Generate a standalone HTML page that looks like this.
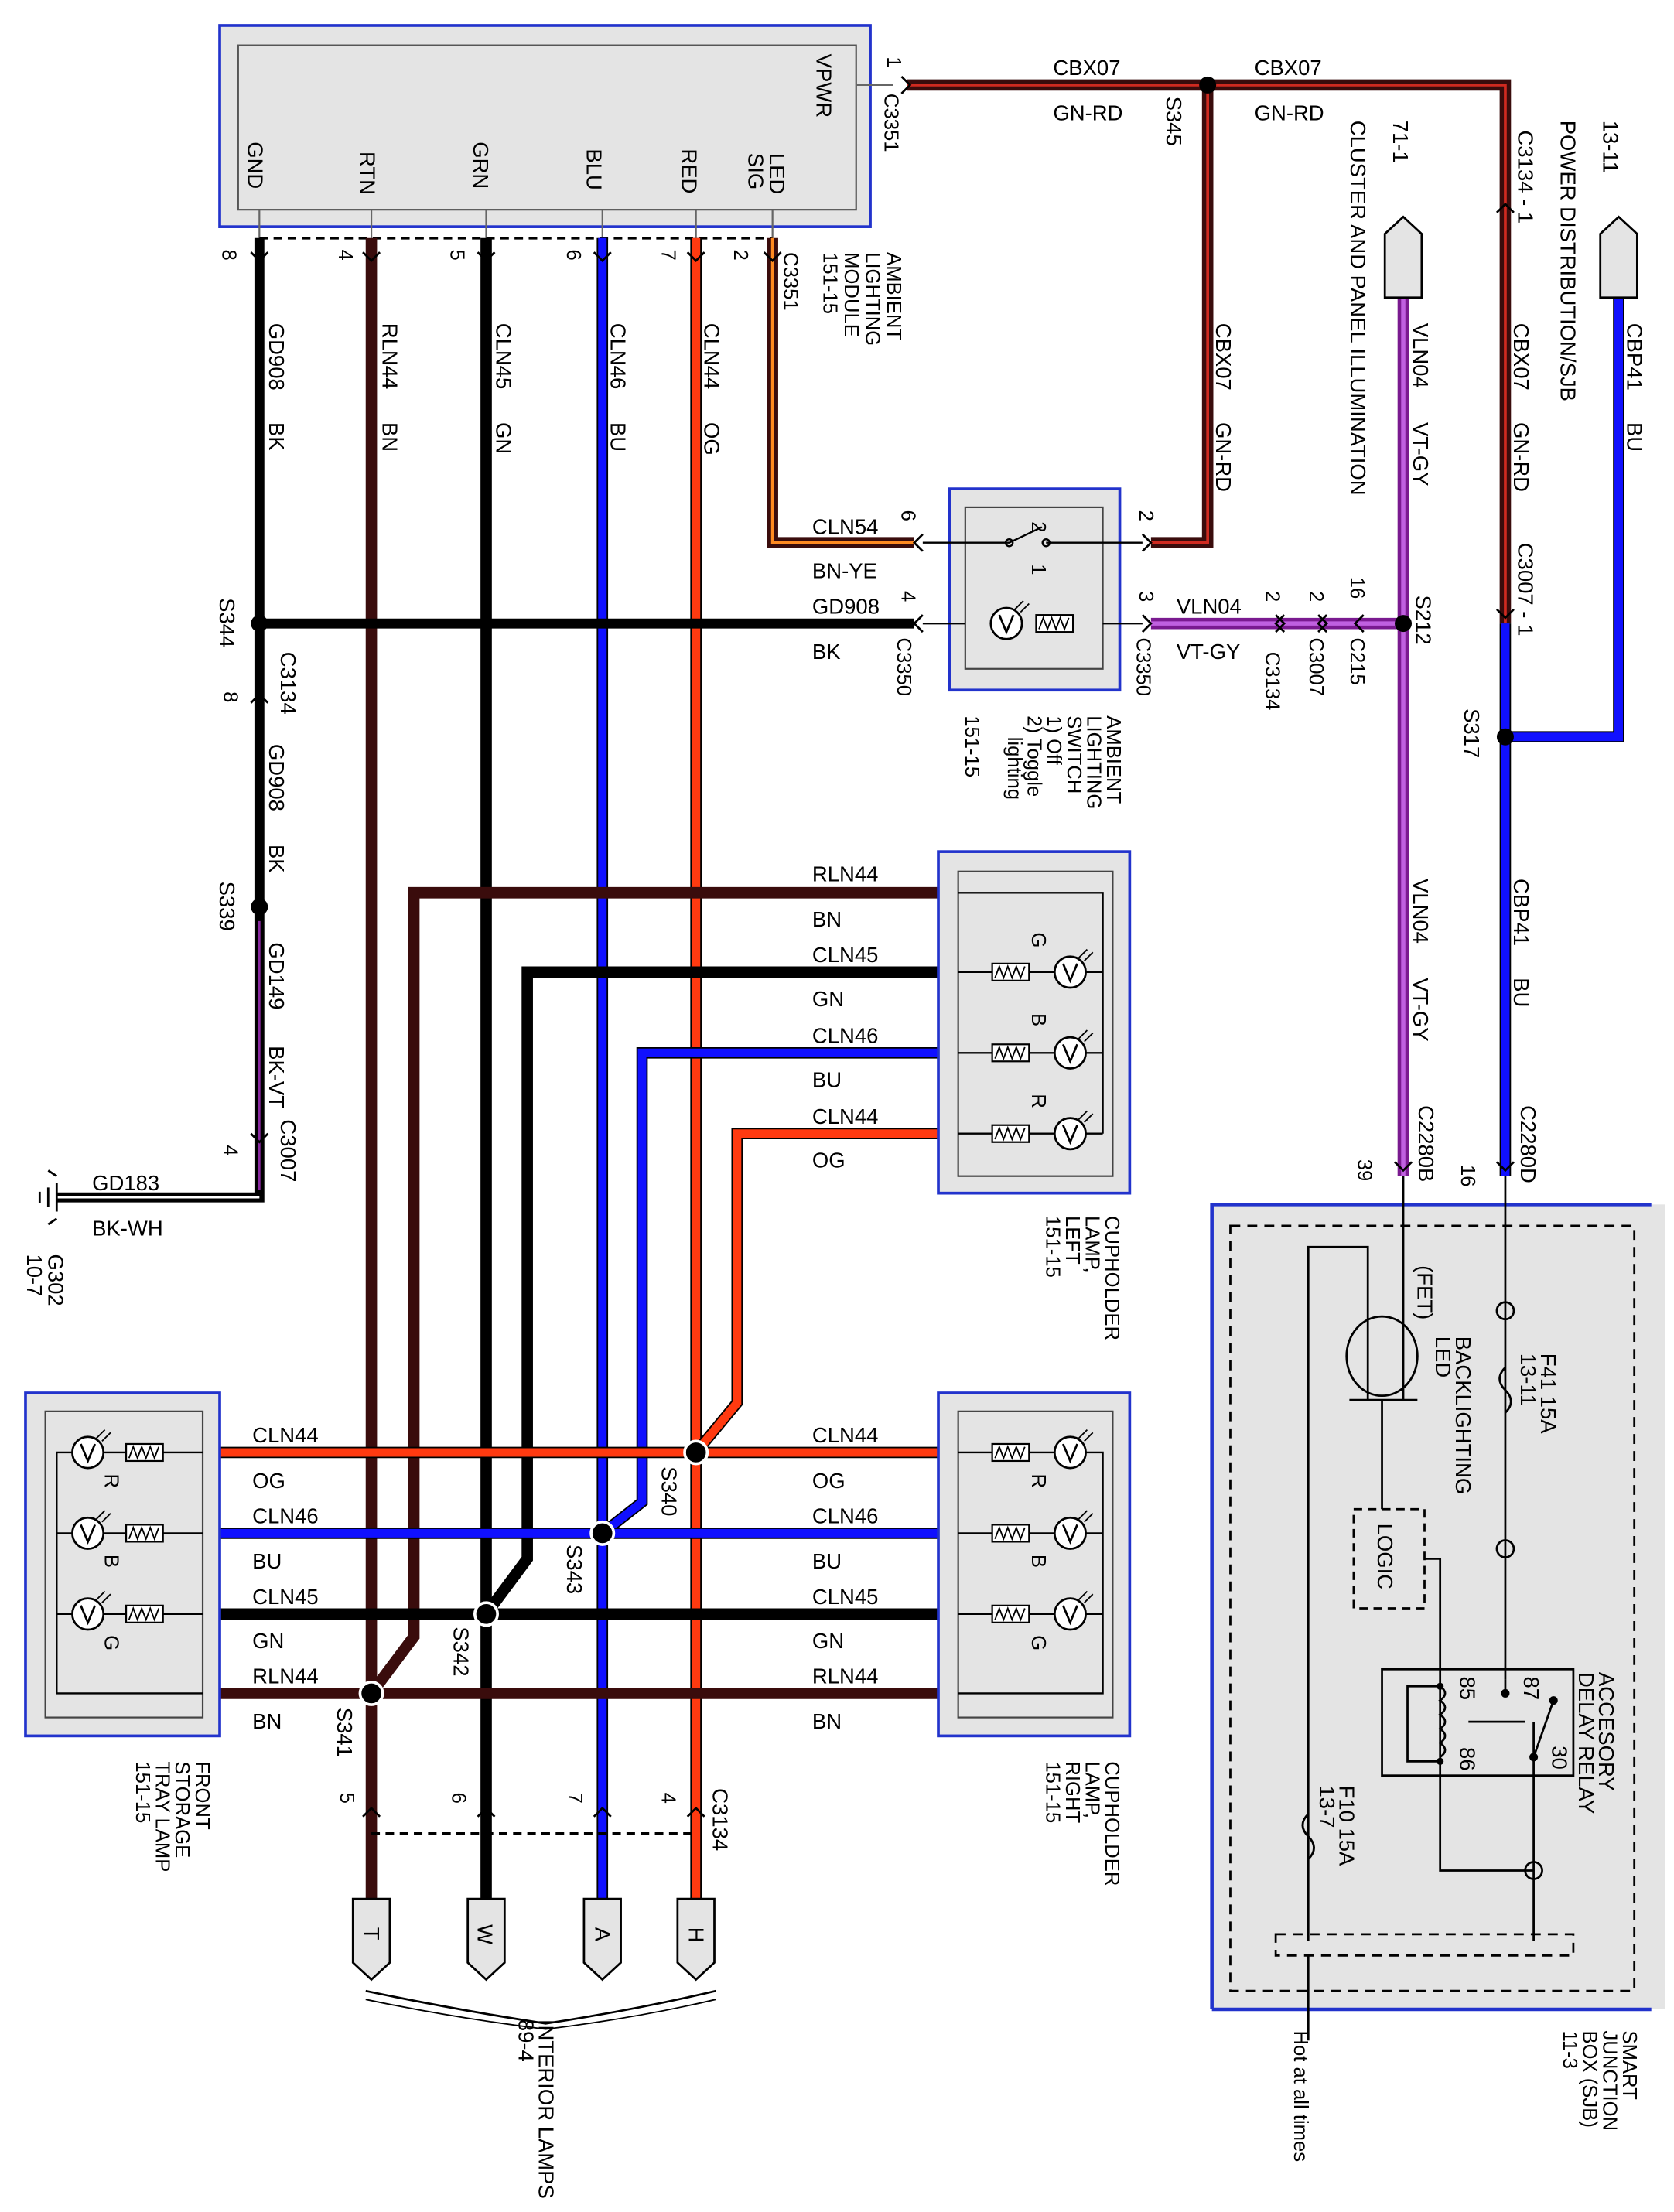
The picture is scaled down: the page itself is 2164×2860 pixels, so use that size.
<!DOCTYPE html>
<html><head><meta charset="utf-8"><style>
html,body{margin:0;padding:0;background:#fff}
svg{display:block}
text{font-family:"Liberation Sans",sans-serif;font-size:15px;fill:#000}
.s{font-size:14px}
</style></head><body>
<svg width="2164" height="2860" viewBox="0 0 1181 1561" preserveAspectRatio="none" xmlns="http://www.w3.org/2000/svg">
<defs>
<g id="lamp">
  <circle cx="0" cy="0" r="11" fill="#fff" stroke="#000" stroke-width="1.5"/>
  <path d="M-5,-6 L0,6 L5,-6" fill="none" stroke="#000" stroke-width="1.5"/>
  <path d="M6,-10 l6,-6 M10,-8 l6,-6" stroke="#000" stroke-width="1"/>
</g>
<g id="res">
  <rect x="-13" y="-6" width="26" height="12" fill="#fff" stroke="#000" stroke-width="1.2"/>
  <path d="M-11,4 l3,-8 l3,8 l3,-8 l3,8 l3,-8 l3,8 l3,-8" fill="none" stroke="#000" stroke-width="1"/>
</g>
</defs>

<!-- Ambient lighting module -->
<rect x="155" y="18" width="459" height="142" fill="#e4e4e4" stroke="#2233cc" stroke-width="2"/>
<rect x="168" y="32" width="436" height="116" fill="#e4e4e4" stroke="#555" stroke-width="1.2"/>
<g stroke="#666" stroke-width="1.2">
<line x1="183" y1="148" x2="183" y2="168"/><line x1="262" y1="148" x2="262" y2="168"/>
<line x1="343" y1="148" x2="343" y2="168"/><line x1="425" y1="148" x2="425" y2="168"/>
<line x1="491" y1="148" x2="491" y2="168"/><line x1="545" y1="148" x2="545" y2="168"/>
<line x1="604" y1="60" x2="630" y2="60"/>
</g>
<line x1="183" y1="168" x2="545" y2="168" stroke="#000" stroke-width="2" stroke-dasharray="6,4"/>
<g>
<text transform="translate(175,100) rotate(90)">GND</text>
<text transform="translate(254,107) rotate(90)">RTN</text>
<text transform="translate(334,100) rotate(90)">GRN</text>
<text transform="translate(414,105) rotate(90)">BLU</text>
<text transform="translate(481,105) rotate(90)">RED</text>
<text transform="translate(543,108) rotate(90)">LED</text>
<text transform="translate(528,108) rotate(90)">SIG</text>
<text transform="translate(576,38) rotate(90)">VPWR</text>
<text class="s" transform="translate(157,176) rotate(90)">8</text>
<text class="s" transform="translate(239,176) rotate(90)">4</text>
<text class="s" transform="translate(318,176) rotate(90)">5</text>
<text class="s" transform="translate(400,176) rotate(90)">6</text>
<text class="s" transform="translate(467,176) rotate(90)">7</text>
<text class="s" transform="translate(518,176) rotate(90)">2</text>
<text class="s" transform="translate(553,178) rotate(90)">C3351</text>
<text class="s" transform="translate(626,40) rotate(90)">1</text>
<text class="s" transform="translate(624,66) rotate(90)">C3351</text>
<text class="s" transform="translate(626,178) rotate(90)">AMBIENT</text>
<text class="s" transform="translate(611,178) rotate(90)">LIGHTING</text>
<text class="s" transform="translate(596,178) rotate(90)">MODULE</text>
<text class="s" transform="translate(581,178) rotate(90)">151-15</text>
</g>

<!-- vertical wires -->
<g fill="none" stroke-linejoin="miter">
<path d="M183,168 V845 H40" stroke="#000" stroke-width="7"/>
<path d="M183,650 V840" stroke="#8a2aa0" stroke-width="1.5"/>
<path d="M183,845 H40" stroke="#fff" stroke-width="1.5"/>
<path d="M262,168 V1340" stroke="#3a0c0c" stroke-width="8"/>
<path d="M343,168 V1340" stroke="#000" stroke-width="8"/>
<path d="M425,168 V1340" stroke="#000" stroke-width="8"/>
<path d="M425,168 V1340" stroke="#1010ff" stroke-width="6"/>
<path d="M491,168 V1340" stroke="#000" stroke-width="8"/>
<path d="M491,168 V1340" stroke="#ff3a10" stroke-width="6"/>
<path d="M545,168 V383 H645" stroke="#3a0c0c" stroke-width="8"/>
<path d="M545,168 V383 H645" stroke="#ff8a20" stroke-width="2"/>
<path d="M183,440 H645" stroke="#000" stroke-width="7"/>
<path d="M640,60 H1062 V440" stroke="#3a0c0c" stroke-width="8"/>
<path d="M640,60 H1062 V440" stroke="#d02a20" stroke-width="2"/>
<path d="M852,60 V383 H812" stroke="#3a0c0c" stroke-width="8"/>
<path d="M852,60 V383 H812" stroke="#d02a20" stroke-width="2"/>
<path d="M1062,440 V830" stroke="#000" stroke-width="8"/>
<path d="M1062,440 V830" stroke="#1010ff" stroke-width="6"/>
<path d="M1062,520 H1142 V210" stroke="#000" stroke-width="8"/>
<path d="M1062,520 H1142 V210" stroke="#1010ff" stroke-width="6"/>
<path d="M812,440 H990" stroke="#7a1a90" stroke-width="8"/>
<path d="M812,440 H990" stroke="#c060e0" stroke-width="3"/>
<path d="M990,210 V830" stroke="#7a1a90" stroke-width="8"/>
<path d="M990,210 V830" stroke="#c060e0" stroke-width="3"/>
<path d="M662,630 H292 V1155 L262,1195" stroke="#3a0c0c" stroke-width="8"/>
<path d="M662,686 H372 V1100 L343,1139" stroke="#000" stroke-width="8"/>
<path d="M662,743 H453 V1060 L425,1082" stroke="#000" stroke-width="8"/>
<path d="M662,743 H453 V1060 L425,1082" stroke="#1010ff" stroke-width="6"/>
<path d="M662,800 H520 V990 L491,1025" stroke="#000" stroke-width="8"/>
<path d="M662,800 H520 V990 L491,1025" stroke="#ff3a10" stroke-width="6"/>
<path d="M155,1025 H662" stroke="#000" stroke-width="8"/>
<path d="M155,1025 H662" stroke="#ff3a10" stroke-width="6"/>
<path d="M155,1082 H662" stroke="#000" stroke-width="8"/>
<path d="M155,1082 H662" stroke="#1010ff" stroke-width="6"/>
<path d="M155,1139 H662" stroke="#000" stroke-width="8"/>
<path d="M155,1195 H662" stroke="#3a0c0c" stroke-width="8"/>
</g>
<!-- splices -->
<g fill="#000">
<circle cx="852" cy="60" r="6"/><circle cx="183" cy="440" r="6"/><circle cx="183" cy="640" r="6"/>
<circle cx="1062" cy="520" r="6"/><circle cx="990" cy="440" r="6"/>
</g>
<g fill="#000" stroke="#fff" stroke-width="2">
<circle cx="491" cy="1025" r="8"/><circle cx="425" cy="1082" r="8"/><circle cx="343" cy="1139" r="8"/><circle cx="262" cy="1195" r="8"/>
</g>
<!-- connector chevrons -->
<g fill="none" stroke="#000" stroke-width="1.5">
<path d="M177,178 l6,6 l6,-6 M256,178 l6,6 l6,-6 M337,178 l6,6 l6,-6 M419,178 l6,6 l6,-6 M485,178 l6,6 l6,-6 M539,178 l6,6 l6,-6"/>
<path d="M636,54 l6,6 l-6,6"/>
<path d="M177,496 l6,-6 l6,6 M177,800 l6,6 l6,-6"/>
<path d="M651,377 l-6,6 l6,6 M651,434 l-6,6 l6,6 M806,377 l6,6 l-6,6 M806,434 l6,6 l-6,6"/>
<path d="M900,434 l6,6 l-6,6 M906,434 l-6,6 l6,6 M930,434 l6,6 l-6,6 M936,434 l-6,6 l6,6 M962,434 l-6,6 l6,6"/>
<path d="M1056,150 l6,-6 l6,6 M1056,430 l6,6 l6,-6 M984,820 l6,6 l6,-6 M1056,820 l6,6 l6,-6"/>
<path d="M256,1282 l6,-6 l6,6 M337,1282 l6,-6 l6,6 M419,1282 l6,-6 l6,6 M485,1282 l6,-6 l6,6"/>
</g>
<line x1="262" y1="1294" x2="491" y2="1294" stroke="#000" stroke-width="2" stroke-dasharray="6,4"/>
<g stroke="#000" stroke-width="1.5" fill="none"><path d="M40,835 V855 M34,838 V852 M28,841 V849"/><path d="M40,830 l-6,-4 M40,860 l-6,4"/></g>

<!-- bottom connectors -->
<g fill="#e4e4e4" stroke="#000" stroke-width="1.5">
<path d="M249,1340 h26 v45 l-13,12 l-13,-12 z"/>
<path d="M330,1340 h26 v45 l-13,12 l-13,-12 z"/>
<path d="M412,1340 h26 v45 l-13,12 l-13,-12 z"/>
<path d="M478,1340 h26 v45 l-13,12 l-13,-12 z"/>
<path d="M977,210 h26 v-45 l-13,-12 l-13,12 z"/>
<path d="M1129,210 h26 v-45 l-13,-12 l-13,12 z"/>
</g>
<g>
<text transform="translate(257,1360) rotate(90)">T</text>
<text transform="translate(337,1358) rotate(90)">W</text>
<text transform="translate(420,1360) rotate(90)">A</text>
<text transform="translate(486,1360) rotate(90)">H</text>
</g>
<path d="M258,1405 Q320,1418 385,1428 Q450,1418 505,1405" fill="none" stroke="#000" stroke-width="1.5"/>
<path d="M258,1411 Q320,1424 385,1432 Q450,1424 505,1411" fill="none" stroke="#000" stroke-width="1"/>

<!-- switch -->
<rect x="670" y="345" width="120" height="142" fill="#e4e4e4" stroke="#2233cc" stroke-width="2"/>
<rect x="681" y="358" width="97" height="114" fill="#e4e4e4" stroke="#444" stroke-width="1.2"/>
<g stroke="#000" stroke-width="1.3" fill="none">
<path d="M651,383 H712 L735,372 M738,383 H806"/>
<circle cx="738" cy="383" r="2.5"/><circle cx="712" cy="383" r="2.5"/>
<path d="M651,440 H681 M778,440 H806"/>
</g>
<use href="#lamp" x="710" y="440"/><use href="#res" x="744" y="440"/>
<text class="s" transform="translate(728,368) rotate(90)">2</text>
<text class="s" transform="translate(728,398) rotate(90)">1</text>

<!-- cupholder left -->
<rect x="662" y="601" width="135" height="241" fill="#e4e4e4" stroke="#2233cc" stroke-width="2"/>
<rect x="676" y="615" width="109" height="215" fill="#e4e4e4" stroke="#444" stroke-width="1.2"/>
<g stroke="#000" stroke-width="1.3" fill="none"><path d="M676,630 H778 V800 M676,686 H778 M676,743 H778 M676,800 H778"/></g>
<use href="#res" x="713" y="686"/><use href="#lamp" x="755" y="686"/>
<use href="#res" x="713" y="743"/><use href="#lamp" x="755" y="743"/>
<use href="#res" x="713" y="800"/><use href="#lamp" x="755" y="800"/>
<text class="s" transform="translate(728,658) rotate(90)">G</text>
<text class="s" transform="translate(728,715) rotate(90)">B</text>
<text class="s" transform="translate(728,772) rotate(90)">R</text>

<!-- cupholder right -->
<rect x="662" y="983" width="135" height="242" fill="#e4e4e4" stroke="#2233cc" stroke-width="2"/>
<rect x="676" y="996" width="109" height="216" fill="#e4e4e4" stroke="#444" stroke-width="1.2"/>
<g stroke="#000" stroke-width="1.3" fill="none"><path d="M676,1025 H778 V1195 H676 M676,1082 H778 M676,1139 H778"/></g>
<use href="#res" x="713" y="1025"/><use href="#lamp" x="755" y="1025"/>
<use href="#res" x="713" y="1082"/><use href="#lamp" x="755" y="1082"/>
<use href="#res" x="713" y="1139"/><use href="#lamp" x="755" y="1139"/>
<text class="s" transform="translate(728,1040) rotate(90)">R</text>
<text class="s" transform="translate(728,1097) rotate(90)">B</text>
<text class="s" transform="translate(728,1154) rotate(90)">G</text>

<!-- front storage -->
<rect x="18" y="983" width="137" height="242" fill="#e4e4e4" stroke="#2233cc" stroke-width="2"/>
<rect x="32" y="996" width="111" height="216" fill="#e4e4e4" stroke="#444" stroke-width="1.2"/>
<g stroke="#000" stroke-width="1.3" fill="none"><path d="M143,1025 H40 V1195 H143 M143,1082 H40 M143,1139 H40"/></g>
<use href="#lamp" x="62" y="1025"/><use href="#res" x="102" y="1025"/>
<use href="#lamp" x="62" y="1082"/><use href="#res" x="102" y="1082"/>
<use href="#lamp" x="62" y="1139"/><use href="#res" x="102" y="1139"/>
<text class="s" transform="translate(74,1040) rotate(90)">R</text>
<text class="s" transform="translate(74,1097) rotate(90)">B</text>
<text class="s" transform="translate(74,1154) rotate(90)">G</text>

<!-- SJB -->
<rect x="855" y="850" width="320" height="568" fill="#e4e4e4"/>
<path d="M855,1418 V850 H1165" fill="none" stroke="#2233cc" stroke-width="2.5"/>
<path d="M855,1418 H1165" stroke="#2233cc" stroke-width="2.5"/>
<rect x="868" y="865" width="285" height="540" fill="none" stroke="#000" stroke-width="1.5" stroke-dasharray="7,5"/>
<g stroke="#000" stroke-width="1.5" fill="none">
<path d="M990,830 V988 M1062,830 V1185"/>
<circle cx="1062" cy="925" r="6"/><circle cx="1062" cy="1093" r="6"/>
<path d="M1062,965 q-8,8 0,16 q8,8 0,16"/>
<ellipse cx="975" cy="957" rx="25" ry="28"/>
<path d="M952,988 H1000 M965,988 V880 H923 V1370 M975,988 V1065"/>
<rect x="955" y="1065" width="50" height="70" stroke-dasharray="6,4"/>
<path d="M1005,1100 H1016 V1320 H1082 M1082,1215 V1370"/>
<circle cx="1082" cy="1320" r="6"/>
<rect x="975" y="1178" width="135" height="75"/>
<path d="M1016,1190 H993 V1243 H1016 M1016,1190 q7,5 0,10 q7,5 0,10 q7,5 0,10 q7,5 0,10 q7,5 0,10"/>
<path d="M1062,1185 V1193 M1036,1215 H1076 M1082,1240 L1096,1200"/>
<path d="M923,1280 q-8,8 0,16 q8,8 0,16"/>
<rect x="900" y="1365" width="210" height="15" stroke-dasharray="7,5"/>
<path d="M923,1380 V1440"/>
</g>
<g fill="#000"><circle cx="1016" cy="1190" r="2.5"/><circle cx="1016" cy="1243" r="2.5"/><circle cx="1062" cy="1195" r="3"/><circle cx="1082" cy="1240" r="3"/><circle cx="1096" cy="1200" r="3"/></g>
<g class="s">
<text transform="translate(1000,893) rotate(90)">(FET)</text>
<text transform="translate(1027,943) rotate(90)">BACKLIGHTING</text>
<text transform="translate(1013,943) rotate(90)">LED</text>
<text transform="translate(1087,955) rotate(90)">F41  15A</text>
<text transform="translate(1073,955) rotate(90)">13-11</text>
<text transform="translate(972,1075) rotate(90)">LOGIC</text>
<text transform="translate(1030,1183) rotate(90)">85</text>
<text transform="translate(1030,1233) rotate(90)">86</text>
<text transform="translate(1075,1183) rotate(90)">87</text>
<text transform="translate(1095,1232) rotate(90)">30</text>
<text transform="translate(1128,1180) rotate(90)">ACCESORY</text>
<text transform="translate(1114,1180) rotate(90)">DELAY RELAY</text>
<text transform="translate(945,1260) rotate(90)">F10  15A</text>
<text transform="translate(931,1260) rotate(90)">13-7</text>
</g>

<!-- rotated labels -->
<g>
<text transform="translate(190,228) rotate(90)">GD908</text><text transform="translate(190,298) rotate(90)">BK</text>
<text transform="translate(270,228) rotate(90)">RLN44</text><text transform="translate(270,298) rotate(90)">BN</text>
<text transform="translate(350,228) rotate(90)">CLN45</text><text transform="translate(350,298) rotate(90)">GN</text>
<text transform="translate(431,228) rotate(90)">CLN46</text><text transform="translate(431,298) rotate(90)">BU</text>
<text transform="translate(497,228) rotate(90)">CLN44</text><text transform="translate(497,298) rotate(90)">OG</text>
<text transform="translate(858,228) rotate(90)">CBX07</text><text transform="translate(858,298) rotate(90)">GN-RD</text>
<text transform="translate(823,68) rotate(90)">S345</text>
<text transform="translate(983,85) rotate(90)">71-1</text>
<text transform="translate(953,85) rotate(90)">CLUSTER AND PANEL ILLUMINATION</text>
<text transform="translate(1131,85) rotate(90)">13-11</text>
<text transform="translate(1101,85) rotate(90)">POWER DISTRIBUTION/SJB</text>
<text transform="translate(1071,92) rotate(90)">C3134  -  1</text>
<text transform="translate(1068,228) rotate(90)">CBX07</text><text transform="translate(1068,298) rotate(90)">GN-RD</text>
<text transform="translate(1071,383) rotate(90)">C3007  -  1</text>
<text transform="translate(1148,228) rotate(90)">CBP41</text><text transform="translate(1148,298) rotate(90)">BU</text>
<text transform="translate(997,228) rotate(90)">VLN04</text><text transform="translate(997,298) rotate(90)">VT-GY</text>
<text transform="translate(999,420) rotate(90)">S212</text>
<text class="s" transform="translate(953,407) rotate(90)">16</text>
<text class="s" transform="translate(953,450) rotate(90)">C215</text>
<text class="s" transform="translate(924,417) rotate(90)">2</text>
<text class="s" transform="translate(924,450) rotate(90)">C3007</text>
<text class="s" transform="translate(893,417) rotate(90)">2</text>
<text class="s" transform="translate(893,460) rotate(90)">C3134</text>
<text transform="translate(1033,500) rotate(90)">S317</text>
<text transform="translate(1068,620) rotate(90)">CBP41</text><text transform="translate(1068,690) rotate(90)">BU</text>
<text transform="translate(997,620) rotate(90)">VLN04</text><text transform="translate(997,690) rotate(90)">VT-GY</text>
<text transform="translate(1073,780) rotate(90)">C2280D</text>
<text transform="translate(1001,780) rotate(90)">C2280B</text>
<text class="s" transform="translate(1031,822) rotate(90)">16</text>
<text class="s" transform="translate(958,818) rotate(90)">39</text>
<text class="s" transform="translate(636,360) rotate(90)">6</text>
<text class="s" transform="translate(636,417) rotate(90)">4</text>
<text class="s" transform="translate(804,360) rotate(90)">2</text>
<text class="s" transform="translate(804,417) rotate(90)">3</text>
<text class="s" transform="translate(633,450) rotate(90)">C3350</text>
<text class="s" transform="translate(802,450) rotate(90)">C3350</text>
<text class="s" transform="translate(781,505) rotate(90)">AMBIENT</text>
<text class="s" transform="translate(767,505) rotate(90)">LIGHTING</text>
<text class="s" transform="translate(753,505) rotate(90)">SWITCH</text>
<text class="s" transform="translate(739,505) rotate(90)">1) Off</text>
<text class="s" transform="translate(725,505) rotate(90)">2) Toggle</text>
<text class="s" transform="translate(711,520) rotate(90)">lighting</text>
<text class="s" transform="translate(681,505) rotate(90)">151-15</text>
<text transform="translate(155,422) rotate(90)">S344</text>
<text transform="translate(198,460) rotate(90)">C3134</text>
<text class="s" transform="translate(158,488) rotate(90)">8</text>
<text transform="translate(190,525) rotate(90)">GD908</text><text transform="translate(190,596) rotate(90)">BK</text>
<text transform="translate(155,622) rotate(90)">S339</text>
<text transform="translate(190,665) rotate(90)">GD149</text><text transform="translate(190,738) rotate(90)">BK-VT</text>
<text transform="translate(198,790) rotate(90)">C3007</text>
<text class="s" transform="translate(158,808) rotate(90)">4</text>
<text transform="translate(34,885) rotate(90)">G302</text>
<text transform="translate(19,885) rotate(90)">10-7</text>
<text class="s" transform="translate(780,858) rotate(90)">CUPHOLDER</text>
<text class="s" transform="translate(766,858) rotate(90)">LAMP,</text>
<text class="s" transform="translate(752,858) rotate(90)">LEFT</text>
<text class="s" transform="translate(738,858) rotate(90)">151-15</text>
<text class="s" transform="translate(780,1243) rotate(90)">CUPHOLDER</text>
<text class="s" transform="translate(766,1243) rotate(90)">LAMP,</text>
<text class="s" transform="translate(752,1243) rotate(90)">RIGHT</text>
<text class="s" transform="translate(738,1243) rotate(90)">151-15</text>
<text class="s" transform="translate(138,1243) rotate(90)">FRONT</text>
<text class="s" transform="translate(124,1243) rotate(90)">STORAGE</text>
<text class="s" transform="translate(110,1243) rotate(90)">TRAY LAMP</text>
<text class="s" transform="translate(96,1243) rotate(90)">151-15</text>
<text transform="translate(467,1035) rotate(90)">S340</text>
<text transform="translate(400,1090) rotate(90)">S343</text>
<text transform="translate(320,1148) rotate(90)">S342</text>
<text transform="translate(238,1205) rotate(90)">S341</text>
<text class="s" transform="translate(240,1265) rotate(90)">5</text>
<text class="s" transform="translate(319,1265) rotate(90)">6</text>
<text class="s" transform="translate(401,1265) rotate(90)">7</text>
<text class="s" transform="translate(467,1265) rotate(90)">4</text>
<text transform="translate(503,1262) rotate(90)">C3134</text>
<text transform="translate(380,1425) rotate(90)">INTERIOR LAMPS</text>
<text transform="translate(366,1425) rotate(90)">89-4</text>
<text class="s" transform="translate(1145,1433) rotate(90)">SMART</text>
<text class="s" transform="translate(1131,1433) rotate(90)">JUNCTION</text>
<text class="s" transform="translate(1117,1433) rotate(90)">BOX (SJB)</text>
<text class="s" transform="translate(1103,1433) rotate(90)">11-3</text>
<text class="s" transform="translate(913,1433) rotate(90)">Hot at all times</text>
</g>

<!-- horizontal labels -->
<g>
<text x="743" y="53">CBX07</text><text x="743" y="85">GN-RD</text>
<text x="885" y="53">CBX07</text><text x="885" y="85">GN-RD</text>
<text x="573" y="377">CLN54</text><text x="573" y="408">BN-YE</text>
<text x="573" y="433">GD908</text><text x="573" y="465">BK</text>
<text x="830" y="433">VLN04</text><text x="830" y="465">VT-GY</text>
<text x="573" y="622">RLN44</text><text x="573" y="654">BN</text>
<text x="573" y="679">CLN45</text><text x="573" y="710">GN</text>
<text x="573" y="736">CLN46</text><text x="573" y="767">BU</text>
<text x="573" y="793">CLN44</text><text x="573" y="824">OG</text>
<text x="65" y="840">GD183</text><text x="65" y="872">BK-WH</text>
<text x="178" y="1018">CLN44</text><text x="178" y="1050">OG</text>
<text x="178" y="1075">CLN46</text><text x="178" y="1107">BU</text>
<text x="178" y="1132">CLN45</text><text x="178" y="1163">GN</text>
<text x="178" y="1188">RLN44</text><text x="178" y="1220">BN</text>
<text x="573" y="1018">CLN44</text><text x="573" y="1050">OG</text>
<text x="573" y="1075">CLN46</text><text x="573" y="1107">BU</text>
<text x="573" y="1132">CLN45</text><text x="573" y="1163">GN</text>
<text x="573" y="1188">RLN44</text><text x="573" y="1220">BN</text>
</g>
</svg>
</body></html>
